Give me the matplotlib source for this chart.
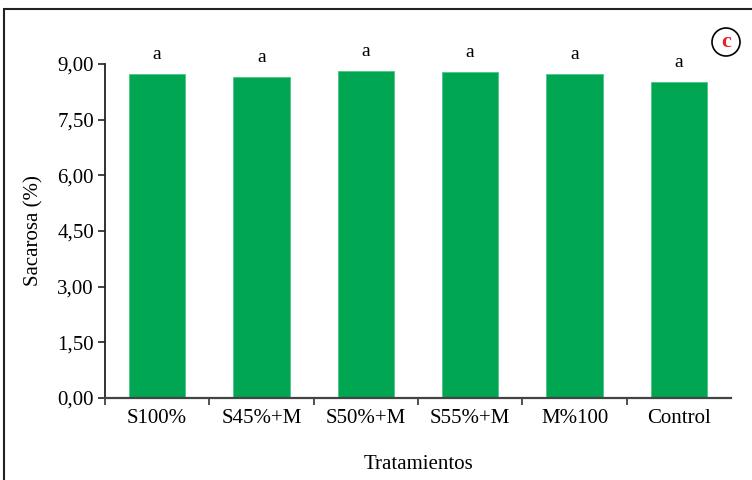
import matplotlib.pyplot as plt
from matplotlib.patches import Rectangle, Circle

tratamientos = ['S100%', 'S45%+M', 'S50%+M', 'S55%+M', 'M%100', 'Control']
sacarosa = [8.74, 8.64, 8.81, 8.78, 8.74, 8.51]
letras = ['a', 'a', 'a', 'a', 'a', 'a']
yticks = [0, 1.5, 3.0, 4.5, 6.0, 7.5, 9.0]

plt.rcParams['font.family'] = 'serif'
plt.rcParams['font.serif'] = ['Liberation Serif', 'DejaVu Serif']

W, H = 752, 480
fig = plt.figure(figsize=(W / 100, H / 100), dpi=100)
ax = fig.add_axes([105 / W, 1 - 398 / H, 626 / W, 334 / H])

x = list(range(len(tratamientos)))
ax.bar(x, sacarosa, width=0.54, color='#00a651', edgecolor='#4cc585', linewidth=0.6, zorder=2)
for xi, v, l in zip(x, sacarosa, letras):
    ax.annotate(l, (xi, v), xytext=(0, 8), textcoords='offset points', ha='center',
                va='bottom', fontsize=14, annotation_clip=False)

ax.set_xlim(-0.5, len(tratamientos) - 0.5)
ax.set_ylim(0, 9)
ax.set_yticks(yticks)
ax.set_yticklabels([f'{t:.2f}'.replace('.', ',') for t in yticks], fontsize=15)
ax.set_xticks(x)
ax.set_xticklabels(tratamientos, fontsize=15)
ax.tick_params(axis='x', length=0, pad=8)
ax.tick_params(axis='y', length=5, width=1.2, color='#222222', pad=3)
# ticks on the x axis sit between the categories
ax.set_xticks([i - 0.5 for i in range(len(tratamientos))], minor=True)
ax.tick_params(axis='x', which='minor', length=5, width=1.2, color='#333333')

for s in ['top', 'right']:
    ax.spines[s].set_visible(False)
ax.spines['left'].set_linewidth(1.3)
ax.spines['left'].set_color('#222222')
ax.spines['bottom'].set_linewidth(1.6)
ax.spines['bottom'].set_color('#444444')

ax.set_ylabel('Sacarosa (%)', fontsize=15, labelpad=10)
ax.set_xlabel('Tratamientos', fontsize=15, labelpad=19)

# frame around the panel
fig.patches.append(Rectangle((4 / W, -0.1), 1.2, 1 - 9 / H + 0.1, transform=fig.transFigure,
                             fill=False, edgecolor='#222222', linewidth=1.5))

# panel letter
cx, cy = 7.26, (H - 42) / 100
fig.patches.append(Circle((cx, cy), 0.14, transform=fig.dpi_scale_trans,
                          fill=False, edgecolor='black', linewidth=1.2))
fig.text(cx / 7.52, cy / 4.8, 'c', color='#e8202a', fontsize=16, fontweight='bold',
         ha='center', va='center')

fig.savefig('out.png', dpi=100)
